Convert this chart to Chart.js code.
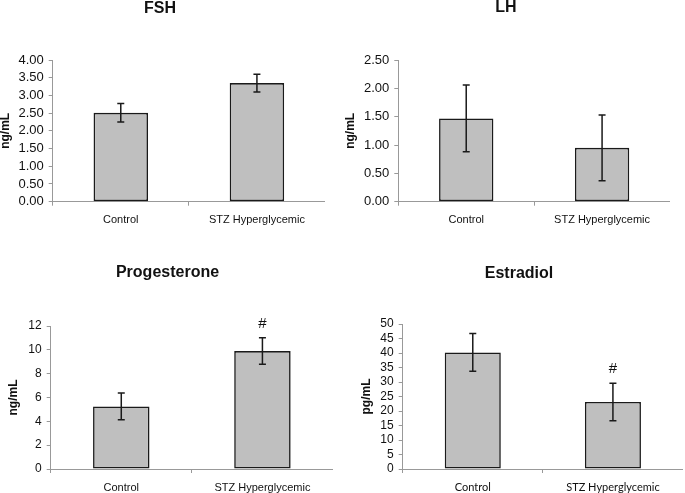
<!DOCTYPE html>
<html><head><meta charset="utf-8">
<script src="https://cdn.jsdelivr.net/npm/chart.js@4/dist/chart.umd.min.js"></script>
<style>
html,body{margin:0;padding:0;background:#fff;width:685px;height:493px;overflow:hidden;position:relative}
canvas{position:absolute}
</style></head><body>
<canvas id="fsh" width="330" height="240" style="left:-5px;top:0px"></canvas>
<canvas id="lh" width="328" height="240" style="left:342px;top:0px"></canvas>
<canvas id="prog" width="331" height="228" style="left:2px;top:265px"></canvas>
<canvas id="estr" width="328" height="227" style="left:355px;top:266px"></canvas>
<script>
// ---- data ----
const categories = ['Control', 'STZ Hyperglycemic'];
const fshMean = [2.51, 3.35];
const fshErr = [0.26, 0.25];
const lhMean = [1.47, 0.95];
const lhErr = [0.59, 0.58];
const progMean = [5.25, 9.90];
const progErr = [1.12, 1.12];
const estrMean = [40.2, 23.1];
const estrErr = [6.5, 6.5];
const progMarks = ['', '#'];
const estrMarks = ['', '#'];

const ARIAL = '"Liberation Sans", Arial, Helvetica, sans-serif';

const errorBars = {
  id: 'errorBars',
  afterDatasetsDraw(chart, args, opts) {
    const errs = opts.errors; if (!errs) return;
    const meta = chart.getDatasetMeta(0);
    const ys = chart.scales.y;
    const data = chart.data.datasets[0].data;
    const ctx = chart.ctx;
    ctx.save();
    ctx.strokeStyle = '#1a1a1a';
    ctx.lineWidth = 1.5;
    meta.data.forEach((bar, i) => {
      const x = bar.x;
      const yt = ys.getPixelForValue(data[i] + errs[i]);
      const yb = ys.getPixelForValue(data[i] - errs[i]);
      ctx.beginPath();
      ctx.moveTo(x, yt); ctx.lineTo(x, yb);
      ctx.moveTo(x - 3.5, yt); ctx.lineTo(x + 3.5, yt);
      ctx.moveTo(x - 3.5, yb); ctx.lineTo(x + 3.5, yb);
      ctx.stroke();
      if (opts.marks && opts.marks[i]) {
        ctx.fillStyle = '#111';
        ctx.font = '15px ' + ARIAL;
        ctx.textAlign = 'center';
        ctx.textBaseline = 'middle';
        ctx.fillText(opts.marks[i], x, yt - 14);
      }
    });
    ctx.restore();
  }
};
Chart.register(errorBars);

function panel(id, cfg) {
  new Chart(document.getElementById(id), {
    type: 'bar',
    data: {
      labels: categories,
      datasets: [{
        data: cfg.mean,
        backgroundColor: '#bfbfbf',
        borderColor: '#1a1a1a',
        borderWidth: 1.6,
        borderSkipped: false,
        categoryPercentage: 1,
        barPercentage: 0.40
      }]
    },
    options: {
      responsive: false,
      animation: false,
      devicePixelRatio: 1,
      layout: { padding: 0 },
      plugins: {
        legend: { display: false },
        tooltip: { enabled: false },
        title: {
          display: true, text: cfg.title, color: '#111',
          font: { family: ARIAL, size: 16, weight: 'bold', lineHeight: 1 },
          padding: { top: cfg.titleTop, bottom: cfg.titleGap }
        },
        errorBars: { errors: cfg.err, marks: cfg.marks }
      },
      scales: {
        x: {
          grid: { display: true, offset: true, drawOnChartArea: false, drawTicks: true, tickLength: 4, color: '#999' },
          border: { display: true, color: '#999', width: 1 },
          ticks: { color: '#111', padding: cfg.xPad, font: cfg.xFont, maxRotation: 0, autoSkip: false },
          afterFit(s) { s.height = cfg.xHeight; }
        },
        y: {
          min: 0, max: cfg.max,
          grid: { display: true, drawOnChartArea: false, drawTicks: true, tickLength: 4, color: '#999' },
          border: { display: true, color: '#999', width: 1 },
          ticks: {
            stepSize: cfg.step, color: '#111', padding: 5, autoSkip: false,
            font: { family: ARIAL, size: cfg.yFontSize },
            callback: v => v.toFixed(cfg.dec)
          },
          title: {
            display: true, text: cfg.unit, color: '#111',
            font: { family: ARIAL, size: 12, weight: 'bold', lineHeight: 1 },
            padding: { top: cfg.yTitlePad, bottom: 0 }
          },
          afterFit(s) { s.width = cfg.yWidth; }
        }
      }
    }
  });
}

panel('fsh', { title: 'FSH', mean: fshMean, err: fshErr, max: 4, step: 0.5, dec: 2, unit: 'ng/mL',
  titleTop: 1, titleGap: 43, xHeight: 38.3, yWidth: 57.7, yTitlePad: 5, yFontSize: 13, xPad: 8,
  xFont: { family: ARIAL, size: 11 } });
panel('lh', { title: 'LH', mean: lhMean, err: lhErr, max: 2.5, step: 0.5, dec: 2, unit: 'ng/mL',
  titleTop: 0, titleGap: 44, xHeight: 38.3, yWidth: 56.3, yTitlePad: 2.5, yFontSize: 13, xPad: 8,
  xFont: { family: ARIAL, size: 11 } });
panel('prog', { title: 'Progesterone', mean: progMean, err: progErr, marks: progMarks, max: 12, step: 2, dec: 0, unit: 'ng/mL',
  titleTop: 0, titleGap: 45, xHeight: 24, yWidth: 48.7, yTitlePad: 6, yFontSize: 12, xPad: 8,
  xFont: { family: ARIAL, size: 11 } });
panel('estr', { title: 'Estradiol', mean: estrMean, err: estrErr, marks: estrMarks, max: 50, step: 5, dec: 0, unit: 'pg/mL',
  titleTop: 0, titleGap: 42, xHeight: 24, yWidth: 47.7, yTitlePad: 5.7, yFontSize: 12, xPad: 8,
  xFont: { family: 'Lato, sans-serif', size: 11 } });
</script>
</body></html>
